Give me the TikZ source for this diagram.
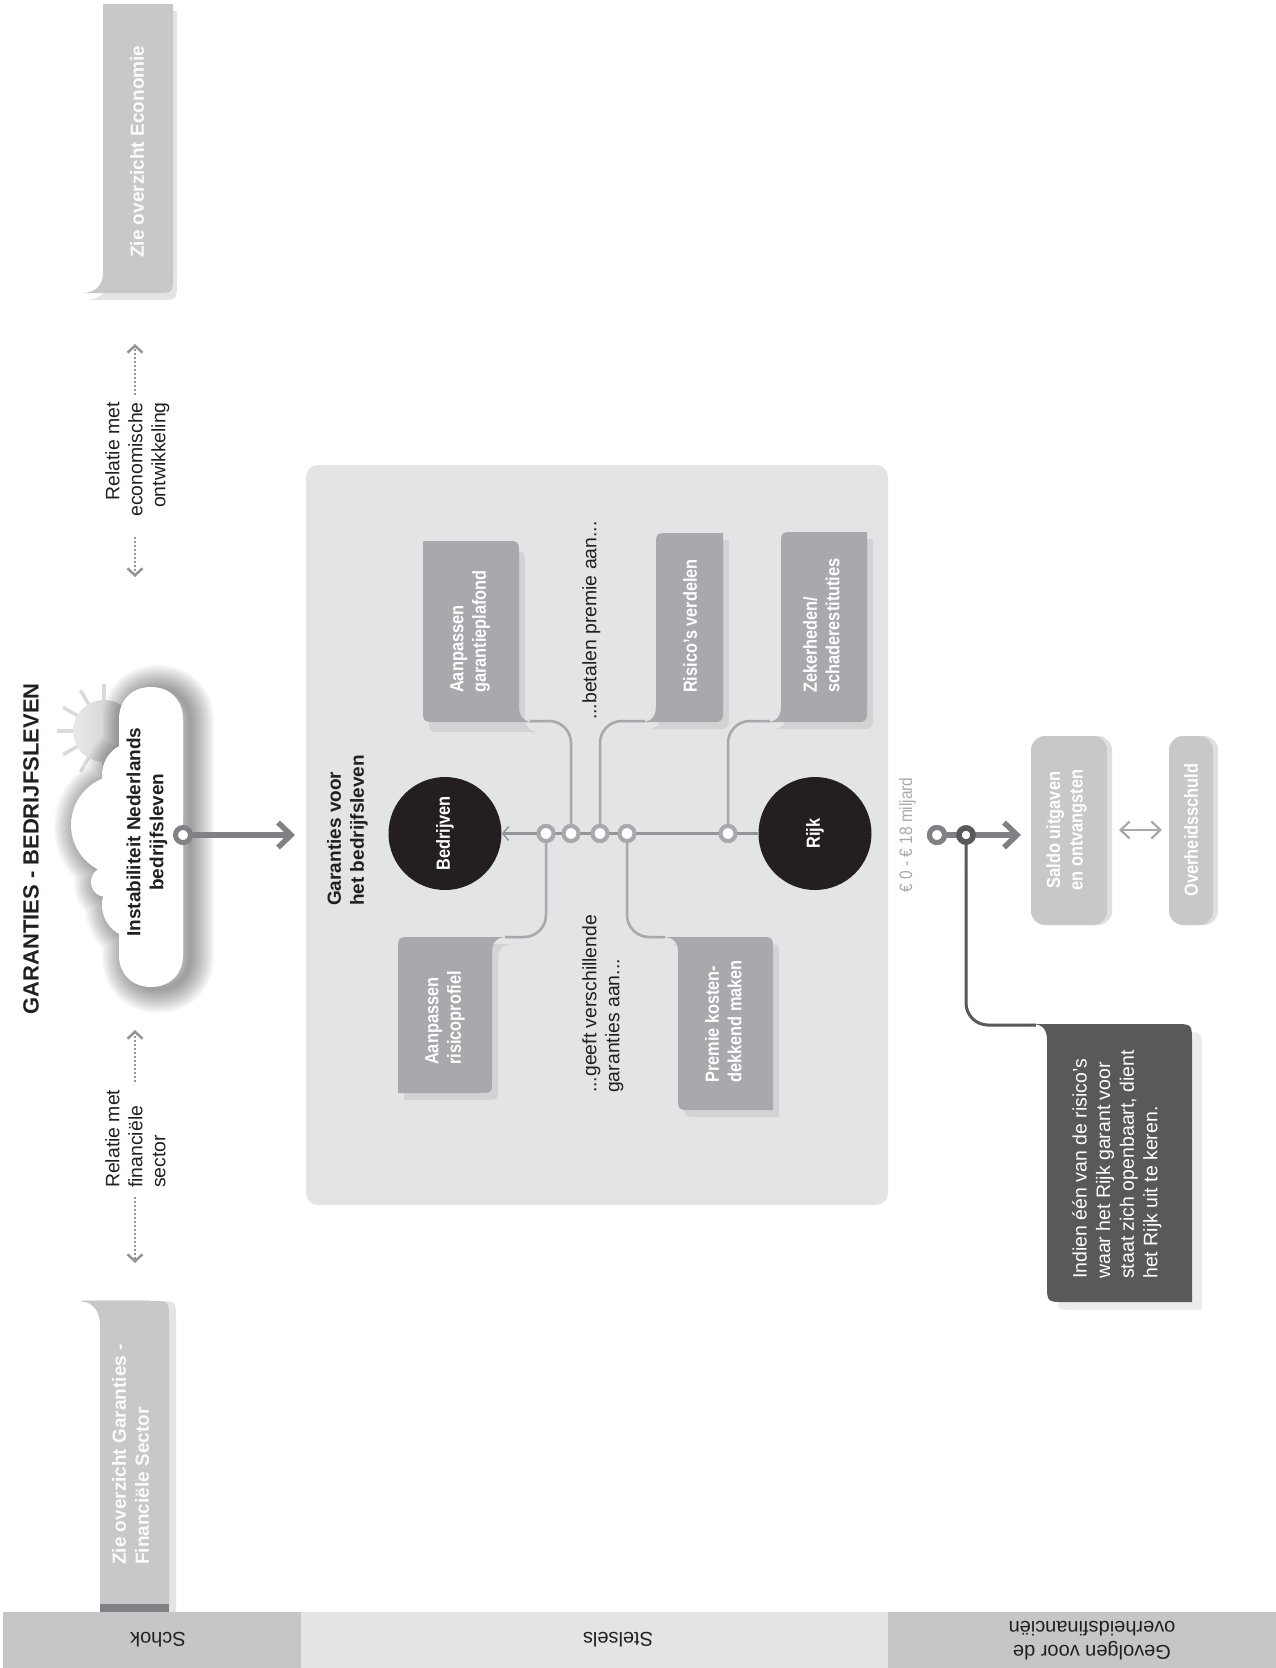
\documentclass[tikz,border=0pt]{standalone}
\usepackage{fontspec}
\setmainfont{Liberation Sans}
\newfontfamily\condb[FakeStretch=0.86]{Liberation Sans Bold}
\newfontfamily\condr[FakeStretch=0.86]{Liberation Sans}
\usetikzlibrary{arrows.meta}
\definecolor{ink}{HTML}{231F20}
\definecolor{panel}{HTML}{E3E4E6}
\definecolor{band}{HTML}{C5C6C8}
\definecolor{boxg}{HTML}{A7A9AC}
\definecolor{boxl}{HTML}{C7C8CA}
\definecolor{shad}{HTML}{D1D3D4}
\definecolor{darkb}{HTML}{58595B}
\definecolor{arrowg}{HTML}{808184}
\definecolor{lineg}{HTML}{939598}
\definecolor{sung}{HTML}{D9DADB}
\tikzset{
  rt/.style={rotate=90,inner sep=0pt,anchor=north west,align=left,text=ink},
  rtr/.style={rotate=90,inner sep=0pt,anchor=north east,align=right,text=ink},
  reg/.style={font=\fontsize{19.4}{23}\selectfont},
  bol/.style={font=\fontsize{19}{23}\selectfont\bfseries},
  cnd/.style={font=\fontsize{19}{22.5}\selectfont\condb,text=white},
  cctr/.style={cnd,rotate=90,inner sep=0pt,align=center,anchor=center},
  bandtxt/.style={rotate=180,inner sep=0pt,align=center,text=ink,font=\fontsize{20}{24}\selectfont},
  jn/.style={circle,draw=boxg,fill=white,line width=4pt,minimum size=15pt,inner sep=0pt},
  ringm/.style={circle,draw=arrowg,fill=white,line width=5pt,minimum size=15pt,inner sep=0pt},
  ringd/.style={circle,draw=darkb,fill=white,line width=5.5pt,minimum size=14pt,inner sep=0pt},
  actor/.style={circle,fill=ink,minimum size=113pt,inner sep=0pt,text=white,rotate=90,font=\fontsize{19}{22.5}\selectfont\condb},
  conn/.style={draw=boxg,line width=2.5pt,rounded corners=22pt},
  connsh/.style={draw=shad,line width=2.5pt,rounded corners=22pt,shift={(6,7)},shorten <=7pt},
  bigarrow/.style={draw=arrowg,line width=5.5pt,-{Straight Barb[length=13pt,width=25pt]}},
  thinarrow/.style={draw=lineg,line width=3pt,-{Straight Barb[length=6pt,width=14pt,line width=1.5pt]}},
  dotarrow/.style={draw=lineg,line width=2.5pt,dash pattern=on 2pt off 2pt,-{Straight Barb[length=7pt,width=15pt,line width=2.5pt,sep=0pt]}},
  dblarrow/.style={draw=boxg,line width=2.2pt,{Straight Barb[length=9pt,width=17pt]}-{Straight Barb[length=9pt,width=17pt]}},
}
\def\pA{(423,541) -- (505,541) .. controls (519,541) .. (519,555) -- (519,706) .. controls (519,717) and (524,722) .. (534,722) -- (437,722) .. controls (423,722) .. (423,708) -- cycle}
\def\pB{(723,533) -- (670,533) .. controls (656,533) .. (656,547) -- (656,706) .. controls (656,717) and (651,722) .. (641,722) -- (709,722) .. controls (723,722) .. (723,708) -- cycle}
\def\pC{(867,532) -- (795,532) .. controls (781,532) .. (781,546) -- (781,706) .. controls (781,717) and (776,722) .. (766,722) -- (853,722) .. controls (867,722) .. (867,708) -- cycle}
\def\pD{(398,1093) -- (478,1093) .. controls (492,1093) .. (492,1079) -- (492,952) .. controls (492,942) and (497,937) .. (507,937) -- (412,937) .. controls (398,937) .. (398,951) -- cycle}
\def\pE{(773,1110) -- (692,1110) .. controls (678,1110) .. (678,1096) -- (678,952) .. controls (678,942) and (673,937) .. (663,937) -- (759,937) .. controls (773,937) .. (773,951) -- cycle}
\def\pF{(1192,1302) -- (1065,1302) .. controls (1047,1302) .. (1047,1284) -- (1047,1040) .. controls (1047,1029) and (1042,1024) .. (1032,1024) -- (1174,1024) .. controls (1192,1024) .. (1192,1042) -- cycle}
\def\pFin{(100,1612) -- (100,1325) .. controls (100,1311) and (93,1302) .. (80,1301) -- (151,1301) .. controls (169,1301) .. (169,1319) -- (169,1612) -- cycle}
\def\pEco{(103,4) -- (173,4) -- (173,275) .. controls (173,293) .. (155,293) -- (83,293) .. controls (96,292) and (103,286) .. (103,272) -- cycle}
\def\pCloud{(119,719) .. controls (119,700) and (132,687) .. (151,687) .. controls (170,687) and (183,700) .. (183,719) -- (183,955) .. controls (183,974) and (170,987) .. (151,987) .. controls (132,987) and (119,974) .. (119,955) -- cycle (121,825) circle (50) (135,775) circle (33) (106,882) circle (15) (135,905) circle (33)}
\begin{document}
\begin{tikzpicture}[x=1pt,y=-1pt]
\useasboundingbox (0,0) rectangle (1276,1668);
\fill[white] (0,0) rectangle (1276,1668);
% bands
\fill[band] (3,1612) rectangle (301,1668);
\fill[panel] (301,1612) rectangle (888,1668);
\fill[band] (888,1612) rectangle (1276,1668);
\node[bandtxt] (bSchok) at (158,1640) {Schok};
\node[bandtxt] (bStelsels) at (618,1640) {Stelsels};
\node[bandtxt] (bGevolgen) at (1092,1641) {Gevolgen voor de\\overheidsfinanciën};
% title
\node[rotate=90,inner sep=0pt,text=ink,font=\fontsize{22}{26}\selectfont\bfseries] (title) at (31,849) {GARANTIES - BEDRIJFSLEVEN};
% overzicht boxes
\fill[panel,shift={(4,7)}] \pEco;
\fill[boxl] \pEco;
\node[rt,bol,text=white!92!boxl] (tEco) at (130,258) {Zie overzicht Economie};
\fill[panel,shift={(7,0)}] (100,1612) -- (100,1301) -- (151,1301) .. controls (169,1301) .. (169,1319) -- (169,1612) -- cycle;
\fill[white] (104,1290) rectangle (100,1612);
\fill[panel] (82,1300) rectangle (150,1302);
\fill[boxl] \pFin;
\fill[arrowg] (100,1604) rectangle (169,1612);
\node[rt,bol,text=white!92!boxl] (tFin) at (112,1565) {Zie overzicht Garanties -\\Financiële Sector};
% relaties
\node[rtr,reg] (relE) at (105,402) {Relatie met\\economische\\ontwikkeling};
\node[rt,reg] (relF) at (105,1188) {Relatie met\\financiële\\sector};
\coordinate (d1a) at (135,395); \coordinate (d1b) at (135,344);
\coordinate (d2a) at (135,537); \coordinate (d2b) at (135,577);
\coordinate (d3a) at (135,1082); \coordinate (d3b) at (135,1030);
\coordinate (d4a) at (135,1197); \coordinate (d4b) at (135,1263);
\draw[dotarrow] (d1a) -- (d1b);
\draw[dotarrow] (d2a) -- (d2b);
\draw[dotarrow] (d3a) -- (d3b);
\draw[dotarrow] (d4a) -- (d4b);
% sun
\foreach \a in {60,90,120,150,180,210,240,270}
  \draw[sung,line width=3.5pt] (104,731) ++(\a:30) -- ++(\a:17);
\shade[left color=sung!60!white,right color=boxl] (104,731) circle (31);
% cloud shadow
\foreach \w in {4,8,...,48}
  \draw[black,opacity=0.035,line width=\w pt,line join=round,shift={(7,2)}] \pCloud;
\fill[white] (119,719) .. controls (119,700) and (132,687) .. (151,687) .. controls (170,687) and (183,700) .. (183,719) -- (183,955) .. controls (183,974) and (170,987) .. (151,987) .. controls (132,987) and (119,974) .. (119,955) -- cycle;
\fill[white] (121,825) circle (50);
\fill[white] (135,775) circle (33);
\fill[white] (106,882) circle (15);
\fill[white] (135,905) circle (33);
\node[rotate=90,inner sep=0pt,align=center,text=ink,font=\fontsize{19}{23}\selectfont\bfseries] (cloudt) at (147,832) {Instabiliteit Nederlands\\bedrijfsleven};
\coordinate (a1) at (295,835);
\node[ringm] (r0) at (183,835) {};
\draw[bigarrow] (r0) -- (a1);
% panel
\fill[panel,rounded corners=12pt] (306,465) rectangle (888,1205);
\node[rt,bol] (tG) at (327,906) {Garanties voor\\het bedrijfsleven};
\node[rt,reg] (tB) at (582,720) {...betalen premie aan...};
\node[rt,reg] (tV) at (582,1093) {...geeft verschillende\\garanties aan...};
% actors and junctions
\node[actor] (bedr) at (445,833.5) {Bedrijven};
\node[actor] (rijk) at (815,833.5) {Rijk};
\coordinate (cA) at (530,721);
\coordinate (cB) at (645,721);
\coordinate (cC) at (770,721);
\coordinate (cD) at (505,937);
\coordinate (cE) at (665,937);
\node[jn] (j1) at (546,833.5) {};
\node[jn] (j2) at (571,833.5) {};
\node[jn] (j3) at (600,833.5) {};
\node[jn] (j4) at (627,833.5) {};
\node[jn] (j5) at (728,833.5) {};
% shadows
\fill[shad,shift={(6,10)}] \pA;
\fill[shad,shift={(6,7)}] \pB;
\fill[shad,shift={(6,7)}] \pC;
\fill[shad,shift={(6,7)}] \pD;
\fill[shad,shift={(6,7)}] \pE;
\draw[connsh] (j2.center) -- (j2.center |- cA) -- (cA);
\draw[connsh] (j3.center) -- (j3.center |- cB) -- (cB);
\draw[connsh] (j5.center) -- (j5.center |- cC) -- (cC);
\draw[connsh] (j1.center) -- (j1.center |- cD) -- (cD);
\draw[connsh] (j4.center) -- (j4.center |- cE) -- (cE);
% boxes
\fill[boxg] \pA; \fill[boxg] \pB; \fill[boxg] \pC; \fill[boxg] \pD; \fill[boxg] \pE;
\draw[conn] (j2.center) -- (j2.center |- cA) -- (cA);
\draw[conn] (j3.center) -- (j3.center |- cB) -- (cB);
\draw[conn] (j5.center) -- (j5.center |- cC) -- (cC);
\draw[conn] (j1.center) -- (j1.center |- cD) -- (cD);
\draw[conn] (j4.center) -- (j4.center |- cE) -- (cE);
\draw[thinarrow] (rijk) -- (bedr);
\node[jn] at (j1) {}; \node[jn] at (j2) {}; \node[jn] at (j3) {}; \node[jn] at (j4) {}; \node[jn] at (j5) {};
\node[rt,cnd] (nA) at (450,693) {Aanpassen\\garantieplafond};
\node[rt,cnd] (nB) at (683,693) {Risico’s verdelen};
\node[rt,cnd] (nC) at (803,693) {Zekerheden/\\schaderestituties};
\node[rt,cnd] (nD) at (425,1065) {Aanpassen\\risicoprofiel};
\node[rt,cnd] (nE) at (705,1083) {Premie kosten-\\dekkend maken};
% right part
\node[rotate=90,inner sep=0pt,text=boxg,font=\fontsize{18}{22}\selectfont\condr] (euro) at (907.5,835) {€ 0 - € 18 miljard};
\fill[shad,opacity=.7,rounded corners=14pt] (1036,736) rectangle (1112,925);
\fill[boxl,rounded corners=14pt] (1031,736) rectangle (1107,925);
\fill[shad,opacity=.7,rounded corners=14pt] (1174,736) rectangle (1218,925);
\fill[boxl,rounded corners=14pt] (1169,736) rectangle (1213,925);
\node[cctr] (saldo) at (1066.5,830) {Saldo uitgaven\\en ontvangsten};
\node[cctr] (schuld) at (1191,830) {Overheidsschuld};
\coordinate (da) at (1119,830); \coordinate (db) at (1162,830);
\draw[dblarrow] (da) -- (db);
\coordinate (a2) at (1021,835);
\coordinate (cF) at (1036,1025);
\node[ringm] (r1) at (937,835) {};
\node[ringd] (r2) at (966,835) {};
\fill[panel!70!white,shift={(10,8)}] \pF;
\draw[draw=panel!70!white,line width=3pt,rounded corners=22pt,shift={(6,7)},shorten <=30pt] (r2.center) -- (r2.center |- cF) -- (cF);
\draw[bigarrow] (r1) -- (a2);
\node[ringm] at (r1) {};
\draw[draw=darkb,line width=3pt,rounded corners=22pt] (r2.center) -- (r2.center |- cF) -- (cF);
\node[ringd] at (r2) {};
\fill[darkb] \pF;
\node[rt,reg,text=white,font=\fontsize{19.5}{23.6}\selectfont] (nF) at (1072,1279) {Indien één van de risico’s\\waar het Rijk garant voor\\staat zich openbaart, dient\\het Rijk uit te keren.};
\end{tikzpicture}
\end{document}
